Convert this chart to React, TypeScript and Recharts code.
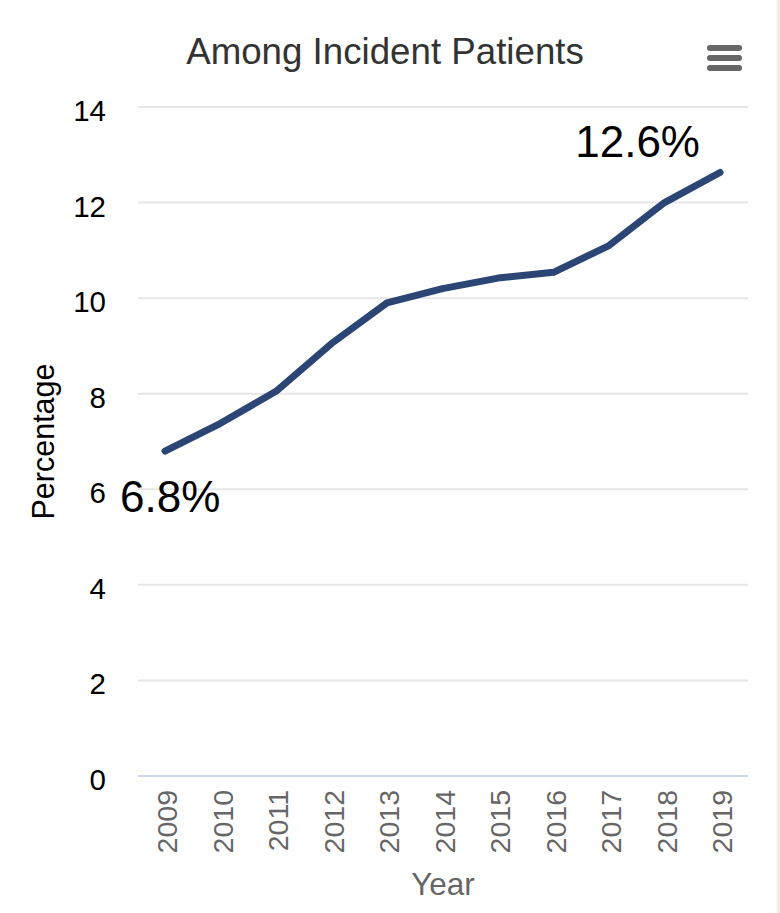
import React from "react";
import { LineChart, Line, XAxis, YAxis, CartesianGrid, LabelList } from "recharts";

const years = ["2009", "2010", "2011", "2012", "2013", "2014", "2015", "2016", "2017", "2018", "2019"];
const percentages = [6.8, 7.38, 8.05, 9.05, 9.9, 10.2, 10.42, 10.54, 11.1, 12.0, 12.63];
const labelTexts = ["6.8%", "", "", "", "", "", "", "", "", "", "12.6%"];
const yTicks = [0, 2, 4, 6, 8, 10, 12, 14];

const data = years.map((year, i) => ({ year, value: percentages[i], label: labelTexts[i] }));

const FONT = '"Liberation Sans", Arial, Helvetica, sans-serif';

const XTick = (props: any) => {
  const { x, y, payload } = props;
  return (
    <text
      x={x}
      y={y}
      transform={`rotate(-90, ${x}, ${y})`}
      textAnchor="end"
      dy={12}
      fill="#666666"
      fontSize={28.5}
      fontFamily={FONT}
    >
      {payload.value}
    </text>
  );
};

const YTick = (props: any) => {
  const { x, y, payload } = props;
  return (
    <text x={x} y={y} textAnchor="end" dy={14} fill="#000000" fontSize={29.5} fontFamily={FONT}>
      {payload.value}
    </text>
  );
};

const DataLabel = (props: any) => {
  const { x, y, index, value } = props;
  if (!value) return null;
  const first = index === 0;
  return (
    <text
      x={first ? x - 45 : x - 20}
      y={first ? y + 61 : y - 15}
      textAnchor={first ? "start" : "end"}
      fill="#000000"
      fontSize={44}
      fontFamily={FONT}
    >
      {value}
    </text>
  );
};

export default function App() {
  return (
    <div
      style={{
        position: "absolute",
        left: 0,
        top: 0,
        width: 780,
        height: 913,
        background: "#ffffff",
        fontFamily: FONT,
        overflow: "hidden",
      }}
    >
      <div
        style={{
          position: "absolute",
          left: 0,
          top: 34,
          width: 770,
          textAlign: "center",
          fontSize: 36.7,
          lineHeight: "36px",
          color: "#333333",
          fontFamily: FONT,
        }}
      >
        Among Incident Patients
      </div>
      <svg
        style={{ position: "absolute", left: 0, top: 0 }}
        width={780}
        height={100}
      >
        <line x1={710} x2={739} y1={48} y2={48} stroke="#666666" strokeWidth={6} strokeLinecap="round" />
        <line x1={710} x2={739} y1={58} y2={58} stroke="#666666" strokeWidth={6} strokeLinecap="round" />
        <line x1={710} x2={739} y1={68} y2={68} stroke="#666666" strokeWidth={6} strokeLinecap="round" />
      </svg>
      <div
        style={{
          position: "absolute",
          left: 777,
          top: 0,
          width: 3,
          height: 913,
          background: "#eeebe4",
        }}
      />
      <div style={{ position: "absolute", left: 0, top: 0 }}>
        <LineChart
          width={780}
          height={913}
          data={data}
          margin={{ top: 107, right: 32, bottom: 0, left: 0 }}
        >
          <CartesianGrid vertical={false} stroke="#e6e6e6" strokeWidth={2} />
          <XAxis
            dataKey="year"
            height={137}
            padding={{ left: 27, right: 28 }}
            axisLine={{ stroke: "#ccd6eb", strokeWidth: 2 }}
            tickLine={false}
            tickSize={0}
            tickMargin={14}
            interval={0}
            tick={<XTick />}
            label={{
              content: (p: any) => {
                const vb = p.viewBox || {};
                return (
                  <text
                    x={vb.x + vb.width / 2}
                    y={vb.y + 119}
                    textAnchor="middle"
                    fill="#666666"
                    fontSize={31.5}
                    fontFamily={FONT}
                  >
                    Year
                  </text>
                );
              },
            }}
          />
          <YAxis
            width={138}
            domain={[0, 14]}
            ticks={yTicks}
            axisLine={false}
            tickLine={false}
            tickSize={0}
            tickMargin={32}
            interval={0}
            tick={<YTick />}
            label={{
              content: (p: any) => {
                const vb = p.viewBox || {};
                const cx = vb.x + 54;
                const cy = vb.y + vb.height / 2;
                return (
                  <text
                    x={cx}
                    y={cy}
                    transform={`rotate(-90, ${cx}, ${cy})`}
                    textAnchor="middle"
                    fill="#000000"
                    fontSize={30.5}
                    fontFamily={FONT}
                  >
                    Percentage
                  </text>
                );
              },
            }}
          />
          <Line
            type="linear"
            dataKey="value"
            stroke="#2b4675"
            strokeWidth={7}
            strokeLinecap="round"
            strokeLinejoin="round"
            dot={false}
            activeDot={false}
            isAnimationActive={false}
          >
            <LabelList dataKey="label" content={<DataLabel />} />
          </Line>
        </LineChart>
      </div>
    </div>
  );
}
